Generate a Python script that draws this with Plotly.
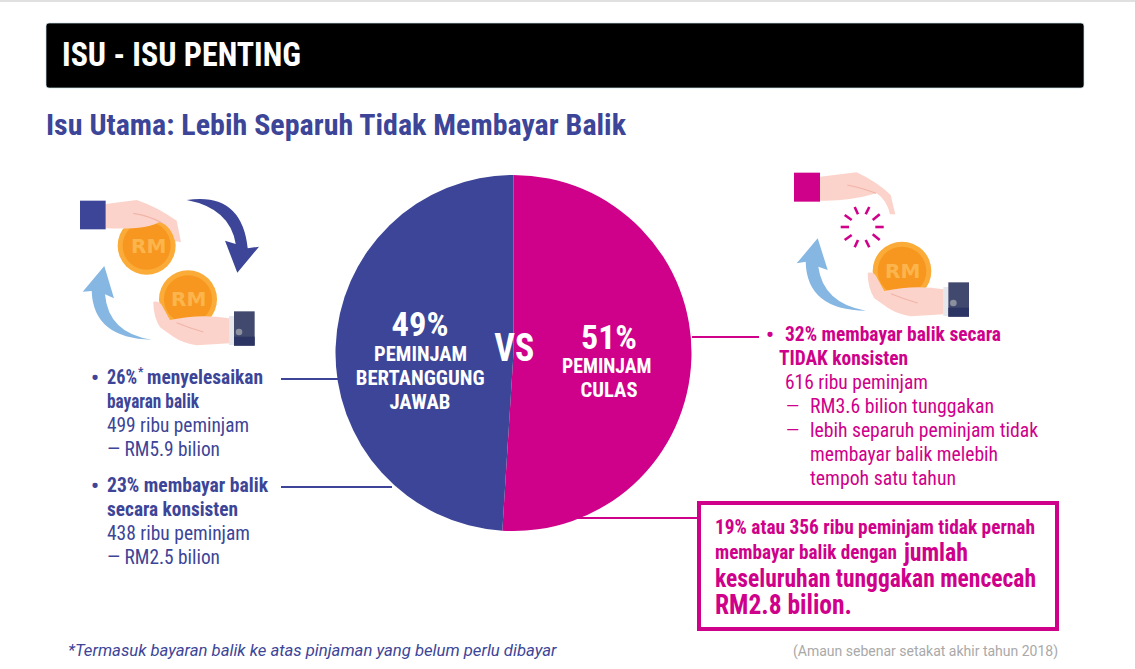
import json
import plotly.graph_objects as go

W, H = 1135, 669
NAVY = "#3c4597"
MAG = "#cf0089"
SKIN = "#fcd3ca"
FOLD = "#f0b4a8"
COND = "'Roboto Condensed', Roboto"

# ---- data ----
pie_labels = ["PEMINJAM CULAS", "PEMINJAM BERTANGGUNG JAWAB"]
pie_values = [51, 49]
pie_colors = [MAG, NAVY]

left_lines = [
    ("26%", 106, 377, True, 30),
    ("menyelesaikan", 146, 377, True, 116),
    ("bayaran balik", 106, 401, True, 92),
    ("499 ribu peminjam", 106, 425, False, 142),
    ("— RM5.9 bilion", 106, 449, False, 113),
    ("23% membayar balik", 106, 485, True, 161),
    ("secara konsisten", 106, 509, True, 131),
    ("438 ribu peminjam", 106, 533, False, 143),
    ("— RM2.5 bilion", 106, 557, False, 113),
]
right_lines = [
    ("32% membayar balik secara", 784, 334, True, 216),
    ("TIDAK konsisten", 778, 358, True, 129),
    ("616 ribu peminjam", 784, 382, False, 143),
    ("RM3.6 bilion tunggakan", 809, 406, False, 184),
    ("lebih separuh peminjam tidak", 809, 430, False, 228),
    ("membayar balik melebih", 809, 454, False, 188),
    ("tempoh satu tahun", 809, 478, False, 146),
]

fig = go.Figure()
fig.add_trace(go.Pie(
    labels=pie_labels, values=pie_values, sort=False, direction="clockwise", rotation=0,
    marker=dict(colors=pie_colors, line=dict(width=0)), textinfo="none", hoverinfo="label+percent",
    showlegend=False,
    domain=dict(x=[335.5 / W, 691.5 / W], y=[1 - 531 / H, 1 - 175 / H]),
))

shapes = []


def rect(x0, y0, x1, y1, fill, line=None, lw=0, layer="below"):
    shapes.append(dict(type="rect", xref="x", yref="y", x0=x0, y0=y0, x1=x1, y1=y1, fillcolor=fill,
                       line=dict(color=line or fill, width=lw), layer=layer))


def hline(x0, y, x1, color, lw=2):
    shapes.append(dict(type="line", xref="x", yref="y", x0=x0, y0=y, x1=x1, y1=y,
                       line=dict(color=color, width=lw), layer="above"))


def conv(org, cmds):
    """icon outline written in 3x zoom coordinates -> page pixels"""
    out = []
    for c in cmds:
        if isinstance(c, str):
            out.append(c)
        else:
            out.append(f"{org[0] + c[0] / 3:.1f},{org[1] + c[1] / 3:.1f}")
    return " ".join(out)


def path(org, cmds, fill=None, line=None, lw=0):
    shapes.append(dict(type="path", xref="x", yref="y", path=conv(org, cmds),
                       fillcolor=fill or "rgba(0,0,0,0)", line=dict(color=line or "rgba(0,0,0,0)", width=lw),
                       layer="below"))


def zrect(org, a, b, fill):
    rect(org[0] + a[0] / 3, org[1] + a[1] / 3, org[0] + b[0] / 3, org[1] + b[1] / 3, fill)


def circle(org, c, r, fill):
    shapes.append(dict(type="circle", xref="x", yref="y", x0=org[0] + (c[0] - r) / 3, y0=org[1] + (c[1] - r) / 3,
                       x1=org[0] + (c[0] + r) / 3, y1=org[1] + (c[1] + r) / 3, fillcolor=fill,
                       line=dict(width=0), layer="below"))


def coin(org, c, r):
    circle(org, c, r, "#fbab38")
    circle(org, c, r * 0.83, "#f7971f")


def lower_hand(org, dx, dy):
    p = lambda x, y: (x + dx, y + dy)
    path(org, ["M", p(280, 365), "Q", p(298, 362), p(305, 375), "L", p(330, 420), "Q", p(420, 400), p(508, 415),
               "L", p(508, 490), "L", p(410, 496), "Q", p(370, 490), p(340, 470), "L", p(300, 442),
               "Q", p(280, 410), p(280, 365), "Z"], SKIN)
    path(org, ["M", p(350, 428), "Q", p(390, 445), p(430, 456)], None, FOLD, 1.2)
    zrect(org, p(507, 408), p(522, 495), "#e6e7ea")
    zrect(org, p(522, 394), p(584, 497), "#414a6e")
    zrect(org, p(522, 470), p(584, 497), "#2c3463")
    circle(org, p(537, 456), 10, "#8b8f9e")


# page furniture
rect(0, 0, W, 2, "#e0e0e0")
shapes.append(dict(type="path", xref="x", yref="y", fillcolor="#000000", layer="below",
                   line=dict(color="#cfe3ea", width=0.7),
                   path="M 49,23 L 1081,23 Q 1084,23 1084,26 L 1084,85 Q 1084,88 1081,88 L 49,88 "
                        "Q 46,88 46,85 L 46,26 Q 46,23 49,23 Z"))

# left icon
L = (60, 180)
coin(L, (260, 197), 87)
path(L, ["M", (137, 72), "L", (230, 60), "Q", (290, 80), (350, 122), "L", (363, 187), "L", (345, 183),
         "Q", (335, 140), (300, 125), "Q", (260, 150), (137, 145), "Z"], SKIN)
path(L, ["M", (220, 100), "Q", (270, 108), (305, 128)], None, FOLD, 1.2)
zrect(L, (60, 62), (137, 148), NAVY)
path(L, ["M", (380, 60), "Q", (545, 35), (563, 205), "L", (597, 200), "L", (532, 278), "L", (495, 182), "L", (527, 192),
         "Q", (510, 85), (380, 60), "Z"], NAVY)
path(L, ["M", (275, 479), "Q", (100, 475), (95, 333), "L", (68, 335), "L", (133, 258), "L", (162, 355), "L", (135, 343),
         "Q", (145, 460), (275, 479), "Z"], "#85b7e2")
coin(L, (384, 358), 87)
lower_hand(L, 0, 0)

# right icon
R = (770, 160)
path(R, ["M", (150, 50), "L", (260, 37), "Q", (320, 65), (362, 105), "L", (376, 163), "L", (360, 163),
         "Q", (350, 120), (320, 100), "Q", (230, 125), (150, 122), "Z"], SKIN)
path(R, ["M", (232, 75), "Q", (280, 85), (318, 100)], None, FOLD, 1.2)
zrect(R, (72, 38), (150, 125), MAG)
for a, b in [((212, 201), (237, 201)), ((316, 201), (341, 201)), ((224, 165), (245, 180)), ((254, 141), (264, 163)),
             ((298, 141), (287, 163)), ((329, 163), (308, 180)), ((224, 240), (245, 225)), ((254, 262), (264, 240)),
             ((298, 262), (287, 240)), ((329, 240), (308, 223))]:
    path(R, ["M", a, "L", b], None, MAG, 2.6)
path(R, ["M", (288, 452), "Q", (110, 450), (107, 305), "L", (80, 310), "L", (143, 235), "L", (173, 330), "L", (145, 320),
         "Q", (160, 430), (288, 452), "Z"], "#85b7e2")
coin(R, (396, 333), 88)
lower_hand(R, 13, -27)

# connectors
hline(281, 379, 341, NAVY)
hline(281, 487, 392, NAVY)
hline(692, 337, 759, MAG)
hline(575, 518, 698, MAG)
rect(699, 503, 1057, 629, "rgba(255,255,255,0)", MAG, 4)

ann = []
fit = {}


def text(x, y, s, size, color, bold=False, font=COND, anchor="left", italic=False, width=None):
    if width:
        fit[s] = width
    ann.append(dict(x=x, y=y, xref="x", yref="y", text=s, showarrow=False, xanchor=anchor, yanchor="middle",
                    align=anchor, borderpad=0,
                    font=dict(family=font, size=size, color=color, weight=700 if bold else 400,
                              style="italic" if italic else "normal")))


text(61, 54, "ISU - ISU PENTING", 33.5, "#ffffff", True, width=239)
text(45, 125, "Isu Utama: Lebih Separuh Tidak Membayar Balik", 29.5, NAVY, True, width=580)

for s, x, y, b, w in left_lines:
    text(x, y, s, 20, NAVY, b, width=w)
text(137, 372, "*", 12, NAVY, True, font="Roboto")
text(90, 377, "•", 22, NAVY, True, font="Roboto")
text(90, 485, "•", 22, NAVY, True, font="Roboto")
for s, x, y, b, w in right_lines:
    text(x, y, s, 20, MAG, b, width=w)
text(765, 334, "•", 22, MAG, True, font="Roboto")
text(785, 406, "—", 17, MAG, font="Roboto")
text(785, 430, "—", 17, MAG, font="Roboto")

text(420, 324, "49%", 34, "#ffffff", True, anchor="center", width=57)
for s, y, w in [("PEMINJAM", 354, 93), ("BERTANGGUNG", 378, 129), ("JAWAB", 402, 61)]:
    text(420, y, s, 21, "#ffffff", True, anchor="center", width=w)
text(513.5, 348, "VS", 38, "#ffffff", True, anchor="center", width=40)
text(608.5, 337, "51%", 34, "#ffffff", True, anchor="center", width=56)
text(608.5, 366, "PEMINJAM ", 21, "#ffffff", True, anchor="center", width=94)
text(608.5, 390, "CULAS", 21, "#ffffff", True, anchor="center", width=57)

text(714, 527, "19% atau 356 ribu peminjam tidak pernah", 20.5, MAG, True, width=320)
text(714, 552, "membayar balik dengan", 20.5, MAG, True, width=182)
text(902, 552, "jumlah", 26, MAG, True, width=64)
text(714, 578, "keseluruhan tunggakan mencecah", 26, MAG, True, width=321)
text(714, 604, "RM2.8 bilion.", 28.5, MAG, True, width=137)

text(67, 650, "*Termasuk bayaran balik ke atas pinjaman yang belum perlu dibayar", 16.7, NAVY, font="Roboto", italic=True)
text(1059, 651, "(Amaun sebenar setakat akhir tahun 2018)", 14, "#a9a9a9", font="Roboto", anchor="right")

for x, y, s in [(148, 246, "RM"), (188, 299, "RM"), (902, 271, "RM")]:
    text(x, y, s, 20, "#fbb54c", True, font="DejaVu Sans", anchor="center")

fig.update_layout(
    width=W, height=H, margin=dict(l=0, r=0, t=0, b=0), autosize=False,
    paper_bgcolor="#ffffff", plot_bgcolor="rgba(0,0,0,0)",
    xaxis=dict(range=[0, W], visible=False, fixedrange=True),
    yaxis=dict(range=[H, 0], visible=False, fixedrange=True),
    shapes=shapes, annotations=ann, showlegend=False,
)

# Roboto Condensed is not installed: fit the Roboto glyphs of those texts to their measured widths.
POST = """
document.body.style.margin='0';
var FIT = %s;
document.querySelectorAll('text.annotation-text').forEach(function(t){
  var w = FIT[t.textContent];
  if (!w) return;
  t.setAttribute('lengthAdjust','spacingAndGlyphs');
  t.setAttribute('textLength',w);
});
""" % json.dumps(fit)
fig.write_html("out.html", config=dict(displayModeBar=False), post_script=POST)
